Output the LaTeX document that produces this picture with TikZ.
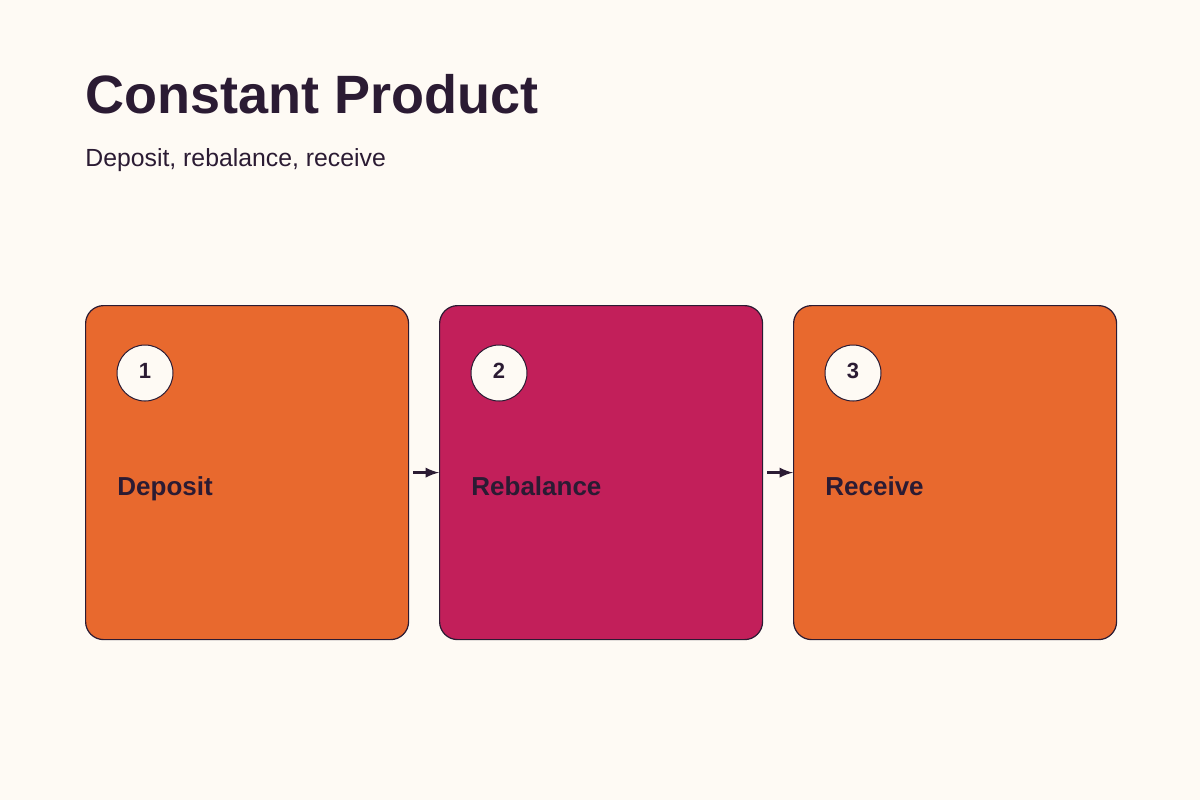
\documentclass[tikz,border=0pt]{standalone}
\usepackage{fontspec}
\setmainfont{Liberation Sans}
\definecolor{bgcream}{HTML}{FEFAF4}
\definecolor{inkdark}{HTML}{2B1B33}
\definecolor{steporange}{HTML}{E8692E}
\definecolor{stepmagenta}{HTML}{C21F5A}
\tikzset{>=latex}
\begin{document}
\begin{tikzpicture}[x=0.5pt,y=-0.5pt,
  stepbox/.style={draw=inkdark, line width=0.6, rounded corners=9pt, minimum width=161.5pt, minimum height=167pt, anchor=north west},
  badge/.style={circle, draw=inkdark, fill=bgcream, line width=0.5, minimum size=28pt, inner sep=0pt, text=inkdark, font=\bfseries\fontsize{11}{13}\selectfont},
  steplabel/.style={anchor=base west, inner sep=0pt, text=inkdark, font=\bfseries\fontsize{13}{15}\selectfont}]

\fill[bgcream] (0,0) rectangle (1200,800);

\node[anchor=base west, inner sep=0pt, text=inkdark, font=\bfseries\fontsize{27}{31}\selectfont] at (85,113) {Constant Product};
\node[anchor=base west, inner sep=0pt, text=inkdark, font=\fontsize{12.4}{15}\selectfont] at (85,166) {Deposit, rebalance, receive};

\node[stepbox, fill=steporange] (deposit) at (85,305) {};
\node[stepbox, fill=stepmagenta] (rebalance) at (439,305) {};
\node[stepbox, fill=steporange] (receive) at (793,305) {};

\node[badge] (one) at (145,373) {\raisebox{2pt}{1}};
\node[badge] (two) at (499,373) {\raisebox{2pt}{2}};
\node[badge] (three) at (853,373) {\raisebox{2pt}{3}};

\node[steplabel] at (117,495) {Deposit};
\node[steplabel] at (471,495) {Rebalance};
\node[steplabel] at (825,495) {Receive};

\draw[->, inkdark, line width=1.3, shorten <=2pt] (deposit.east) -- (rebalance.west);
\draw[->, inkdark, line width=1.3, shorten <=2pt] (rebalance.east) -- (receive.west);

\end{tikzpicture}
\end{document}
